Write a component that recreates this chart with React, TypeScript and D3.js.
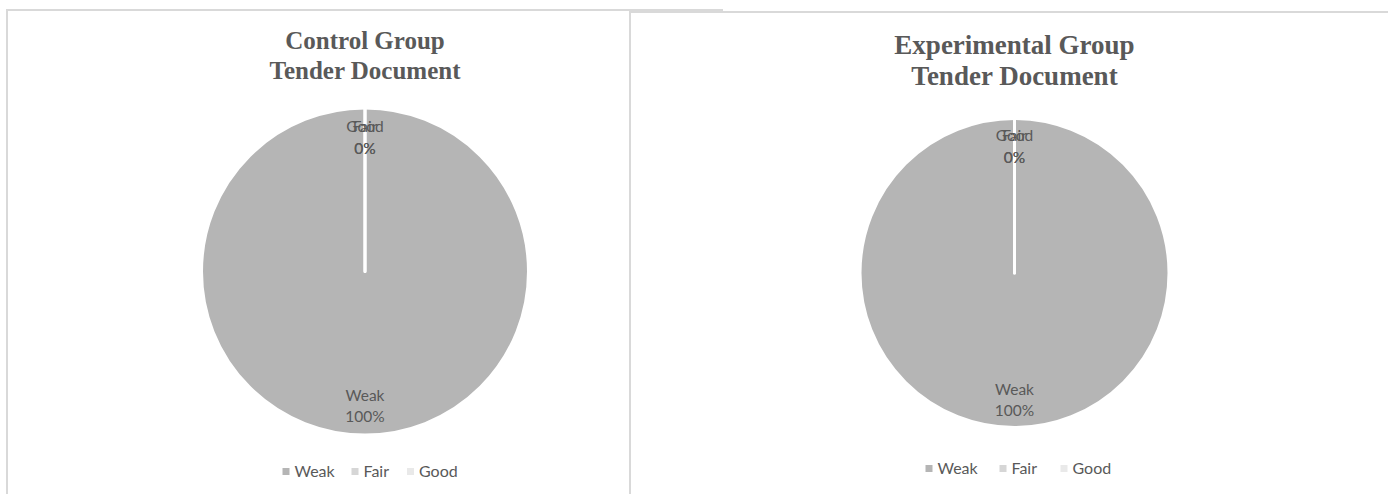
import React from "react";
import * as d3 from "d3";

const categories = ["Weak", "Fair", "Good"];
const controlValues = [100, 0, 0];
const experimentalValues = [100, 0, 0];
const sliceColors = ["#b5b5b5", "#d6d6d6", "#e9e9e9"];

const panels = [
  {
    title: ["Control Group", "Tender Document"],
    values: controlValues,
    x: 7, y: 10, w: 715,
    cx: 365, cy: 271.5, r: 163.5,
    titleSize: 25, titleY: [49, 79],
    legendY: 471.5,
    legendX: [286, 355, 410.5],
  },
  {
    title: ["Experimental Group", "Tender Document"],
    values: experimentalValues,
    x: 630, y: 12, w: 800,
    cx: 1014.5, cy: 273, r: 154.5,
    titleSize: 27, titleY: [54, 85],
    legendY: 468.5,
    legendX: [929, 1003, 1064],
  },
];

const labelFont = "Lato, 'Open Sans', sans-serif";

function PiePanel({ p }: { p: (typeof panels)[number] }) {
  const pie = d3.pie<number>().sort(null).value((d) => d);
  const arcs = pie(p.values);
  const arc = d3.arc<d3.PieArcDatum<number>>().innerRadius(0).outerRadius(p.r);
  const labelArc = d3
    .arc<d3.PieArcDatum<number>>()
    .innerRadius(p.r * 0.82)
    .outerRadius(p.r * 0.82);
  const total = d3.sum(p.values);
  const pct = d3.format(".0%");
  return (
    <g>
      <rect x={p.x} y={p.y} width={p.w} height={600} fill="#fff" stroke="#d9d9d9" strokeWidth={2} />
      {p.title.map((t, i) => (
        <text
          key={i}
          x={p.cx}
          y={p.titleY[i]}
          textAnchor="middle"
          fontFamily="'Liberation Serif', 'Times New Roman', serif"
          fontWeight="bold"
          fontSize={p.titleSize}
          fill="#595959"
        >
          {t}
        </text>
      ))}
      <g transform={`translate(${p.cx},${p.cy})`}>
        {arcs.map((a, i) => (
          <path key={i} d={arc(a) || ""} fill={sliceColors[i]} stroke="#fff" strokeWidth={3} strokeLinejoin="round" />
        ))}
        {arcs.map((a, i) => {
          const [lx, ly] = labelArc.centroid(a);
          return (
            <text key={i} x={lx} y={ly} textAnchor="middle" fontFamily={labelFont} fontSize={15.5} fill="#595959">
              <tspan x={lx} dy={-5}>{categories[i]}</tspan>
              <tspan x={lx} dy={21.5}>{pct(p.values[i] / total)}</tspan>
            </text>
          );
        })}
      </g>
      {categories.map((c, i) => (
        <g key={c} transform={`translate(${p.legendX[i]},${p.legendY})`}>
          <rect x={-3.5} y={-3.5} width={7} height={7} fill={sliceColors[i]} />
          <text x={8.5} y={5} fontFamily={labelFont} fontSize={16} fill="#595959">
            {c}
          </text>
        </g>
      ))}
    </g>
  );
}

export default function App() {
  return (
    <svg
      width={1388}
      height={494}
      style={{ position: "absolute", left: 0, top: 0, background: "#fff" }}
    >
      {panels.map((p, i) => (
        <PiePanel key={i} p={p} />
      ))}
    </svg>
  );
}
